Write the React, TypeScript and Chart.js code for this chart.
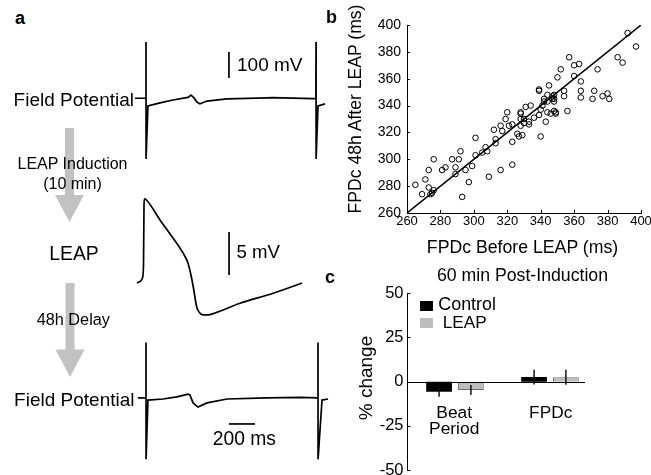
import React, { useEffect, useRef } from 'react';
import { Chart, registerables } from 'chart.js';
Chart.register(...registerables);

const FONT = 'Arial, "Liberation Sans", Helvetica, sans-serif';

// ---------- Panel a: traces (time in ms, potential in mV) ----------
const fpTopTime = [-85, -1, 0, 0.5, 15, 108, 208, 300, 323, 346, 369, 392, 415, 469, 623, 931, 977, 1285, 1307, 1308, 1308.5, 1323, 1377];
const fpTopValue = [2.7, 2.7, 219, -231, -27, -15, -4, 4, 6, 15, 4, -12, -19, -8, 0, 4, 5, 1, 2, 219, -231, -27, -19];

const apTime = [-50, -27, -8, 0, 4, 8, 23, 127, 227, 304, 342, 365, 383, 409, 427, 458, 496, 550, 742, 998, 1219];
const apValue = [0, 0.17, 0.58, 2.1, 9.1, 9.77, 9.65, 7.33, 5.23, 3.49, 2.33, 0.93, -0.47, -2.76, -3.37, -3.72, -3.72, -3.49, -2.36, -1.2, 0];

const fpBottomTime = [-62, -1, 0, 0.5, 15, 131, 238, 323, 338, 362, 400, 469, 623, 931, 1185, 1322, 1323, 1323.5, 1354, 1400];
const fpBottomValue = [0, 0, 213, -236, -8, -4, 4, 15, 12, -19, -35, -19, -4, 0, 2, 0, 213, -236, -8, -4];

// scale bars
const fpScaleBar = { t: 638, from: 81, to: 181 }; // 100 mV
const apScaleBar = { t: 658, from: 0.93, to: 5.93 }; // 5 mV
const timeScaleBar = { v: -100, from: 638, to: 838 }; // 200 ms

// ---------- Panel b: scatter ----------
const fpdcBefore = [265, 269, 271, 273, 273, 274, 275, 276, 276, 281, 283, 287, 289, 289, 291, 292, 293, 295, 297, 299, 301, 301, 305, 307, 308, 309, 312, 313, 313, 316, 316, 317, 319, 320, 321, 323, 323, 323, 326, 327, 328, 328, 328, 328, 329, 330, 330, 331, 333, 333, 334, 336, 339, 339, 339, 340, 340, 341, 342, 342, 343, 344, 344, 344, 345, 346, 347, 347, 348, 348, 348, 348, 349, 349, 350, 352, 354, 354, 356, 357, 360, 360, 363, 364, 364, 364, 371, 372, 374, 377, 380, 381, 386, 389, 392, 397];
const fpdcAfter = [281, 274, 285, 292, 279, 274, 275, 277, 300, 292, 294, 300, 289, 294, 300, 306, 272, 292, 283, 295, 303, 316, 305, 309, 306, 287, 322, 315, 312, 325, 292, 321, 330, 335, 325, 326, 313, 296, 319, 317, 325, 335, 334, 330, 318, 327, 330, 339, 328, 326, 340, 331, 333, 352, 351, 337, 317, 340, 343, 345, 328, 348, 335, 343, 355, 334, 345, 347, 343, 348, 336, 345, 335, 334, 361, 367, 347, 351, 336, 376, 370, 362, 371, 358, 351, 346, 345, 351, 367, 347, 349, 345, 376, 372, 394, 384];
const identityLine = [260, 400];
const scatterTicks = [260, 280, 300, 320, 340, 360, 380, 400];

// ---------- Panel c: bars ----------
const barCategories = ['Beat Period', 'FPDc'];
const controlMean = [-5.7, 2.6];
const controlErr = [2.8, 4.2];
const leapMean = [-4.7, 2.5];
const leapErr = [2.8, 4.3];
const barTicks = [-50, -25, 0, 25, 50];

function ChartCanvas({ left, top, width, height, config }: { left: number; top: number; width: number; height: number; config: () => any }) {
  const ref = useRef<HTMLCanvasElement | null>(null);
  useEffect(() => {
    if (!ref.current) return;
    const chart = new Chart(ref.current, config());
    return () => chart.destroy();
  }, []);
  return (
    <canvas
      ref={ref}
      width={width}
      height={height}
      style={{ position: 'absolute', left, top, width, height }}
    />
  );
}

function Label({ x, y, size, bold, anchor = 'middle', rotate, children }: { x: number; y: number; size: number; bold?: boolean; anchor?: 'start' | 'middle' | 'end'; rotate?: boolean; children: React.ReactNode }) {
  const tx = anchor === 'start' ? '0' : anchor === 'end' ? '-100%' : '-50%';
  return (
    <div
      style={{
        position: 'absolute',
        left: x,
        top: y,
        transform: `translate(${tx},-50%)${rotate ? ' rotate(-90deg)' : ''}`,
        fontFamily: FONT,
        fontSize: size,
        fontWeight: bold ? 'bold' : 'normal',
        lineHeight: 1,
        whiteSpace: 'pre',
        textAlign: 'center',
        color: '#000',
      }}
    >
      {children}
    </div>
  );
}

function traceConfig(times: number[], values: number[], xMin: number, xMax: number, yMin: number, yMax: number, smooth: boolean, bar: (c: any) => void) {
  return () => ({
    type: 'line',
    data: {
      datasets: [
        {
          data: times.map((t, i) => ({ x: t, y: values[i] })),
          borderColor: '#000',
          borderWidth: 1.7,
          pointRadius: 0,
          tension: 0,
          cubicInterpolationMode: smooth ? 'monotone' : 'default',
          fill: false,
        },
      ],
    },
    options: {
      responsive: false,
      animation: false,
      events: [],
      layout: { padding: 0 },
      plugins: { legend: { display: false }, tooltip: { enabled: false } },
      scales: {
        x: { type: 'linear', display: false, min: xMin, max: xMax },
        y: { type: 'linear', display: false, min: yMin, max: yMax },
      },
    },
    plugins: [{ id: 'scalebar', afterDatasetsDraw: bar }],
  });
}

function drawVBar(sb: { t: number; from: number; to: number }) {
  return (chart: any) => {
    const { ctx, scales } = chart;
    const x = scales.x.getPixelForValue(sb.t);
    ctx.save();
    ctx.strokeStyle = '#000';
    ctx.lineWidth = 1.7;
    ctx.beginPath();
    ctx.moveTo(x, scales.y.getPixelForValue(sb.from));
    ctx.lineTo(x, scales.y.getPixelForValue(sb.to));
    ctx.stroke();
    ctx.restore();
  };
}

function drawHBar(sb: { v: number; from: number; to: number }) {
  return (chart: any) => {
    const { ctx, scales } = chart;
    const y = scales.y.getPixelForValue(sb.v);
    ctx.save();
    ctx.strokeStyle = '#000';
    ctx.lineWidth = 1.7;
    ctx.beginPath();
    ctx.moveTo(scales.x.getPixelForValue(sb.from), y);
    ctx.lineTo(scales.x.getPixelForValue(sb.to), y);
    ctx.stroke();
    ctx.restore();
  };
}

const inwardTicks = {
  id: 'inwardTicks',
  afterDraw(chart: any) {
    const { ctx, chartArea, scales } = chart;
    ctx.save();
    ctx.strokeStyle = '#000';
    ctx.lineWidth = 1;
    if (scales.x && scales.x.options.display && scales.x.type === 'linear') {
      scales.x.ticks.forEach((t: any) => {
        const px = Math.round(scales.x.getPixelForValue(t.value)) + 0.5;
        ctx.beginPath();
        ctx.moveTo(px, chartArea.bottom);
        ctx.lineTo(px, chartArea.bottom - 3);
        ctx.stroke();
      });
    }
    if (scales.y) {
      scales.y.ticks.forEach((t: any) => {
        const py = Math.round(scales.y.getPixelForValue(t.value)) + 0.5;
        ctx.beginPath();
        ctx.moveTo(chartArea.left, py);
        ctx.lineTo(chartArea.left + 3, py);
        ctx.stroke();
      });
    }
    ctx.restore();
  },
};

function scatterConfig() {
  return {
    type: 'scatter',
    data: {
      datasets: [
        {
          type: 'line',
          data: identityLine.map((v) => ({ x: v, y: v })),
          borderColor: '#000',
          borderWidth: 1.5,
          pointRadius: 0,
          fill: false,
        },
        {
          data: fpdcBefore.map((b, i) => ({ x: b, y: fpdcAfter[i] })),
          pointRadius: 2.8,
          pointBorderWidth: 1,
          pointBorderColor: '#000',
          pointBackgroundColor: 'rgba(255,255,255,0)',
          showLine: false,
        },
      ],
    },
    options: {
      responsive: false,
      animation: false,
      events: [],
      layout: { padding: { top: 25, right: 10, left: 0, bottom: 0 } },
      plugins: { legend: { display: false }, tooltip: { enabled: false } },
      scales: {
        x: {
          type: 'linear',
          min: 260,
          max: 400,
          afterBuildTicks: (s: any) => { s.ticks = scatterTicks.map((v) => ({ value: v })); },
          ticks: { font: { size: 13, family: FONT }, color: '#000', padding: 1, maxRotation: 0, autoSkip: false },
          grid: { display: false, drawTicks: false },
          border: { display: true, color: '#000', width: 1 },
          afterFit: (s: any) => { s.height = 47; s.paddingLeft = 0; s.paddingRight = 0; },
        },
        y: {
          type: 'linear',
          min: 260,
          max: 400,
          afterBuildTicks: (s: any) => { s.ticks = scatterTicks.map((v) => ({ value: v })); },
          ticks: { font: { size: 14, family: FONT }, color: '#000', padding: 6, autoSkip: false },
          grid: { display: false, drawTicks: false },
          border: { display: true, color: '#000', width: 1 },
          afterFit: (s: any) => { s.width = 77; s.paddingTop = 0; s.paddingBottom = 0; },
        },
      },
    },
    plugins: [inwardTicks],
  };
}

const barExtras = {
  id: 'barExtras',
  afterDatasetsDraw(chart: any) {
    const { ctx, chartArea, scales } = chart;
    const y0 = Math.round(scales.y.getPixelForValue(0)) + 0.5;
    ctx.save();
    ctx.strokeStyle = '#000';
    ctx.lineWidth = 1;
    ctx.beginPath();
    ctx.moveTo(chartArea.left, y0);
    ctx.lineTo(chartArea.right - 12.5, y0);
    ctx.stroke();
    const errs = [controlErr, leapErr];
    const means = [controlMean, leapMean];
    ctx.lineWidth = 1.5;
    ctx.strokeStyle = '#111';
    [0, 1].forEach((di) => {
      const meta = chart.getDatasetMeta(di);
      meta.data.forEach((bar: any, i: number) => {
        const m = means[di][i];
        const e = errs[di][i];
        ctx.beginPath();
        ctx.moveTo(bar.x, scales.y.getPixelForValue(m + e));
        ctx.lineTo(bar.x, scales.y.getPixelForValue(m - e));
        ctx.stroke();
      });
    });
    ctx.restore();
  },
};

function barConfig() {
  return {
    type: 'bar',
    data: {
      labels: barCategories,
      datasets: [
        { label: 'Control', data: controlMean, backgroundColor: '#000', borderWidth: 0, categoryPercentage: 0.67, barPercentage: 0.81 },
        { label: 'LEAP', data: leapMean, backgroundColor: '#bdbdbd', borderColor: '#6e6e6e', borderWidth: 1, categoryPercentage: 0.67, barPercentage: 0.81 },
      ],
    },
    options: {
      responsive: false,
      animation: false,
      events: [],
      layout: { padding: { top: 33.3, right: 53.5, left: 0, bottom: 5 } },
      plugins: { legend: { display: false }, tooltip: { enabled: false } },
      scales: {
        x: { type: 'category', display: false, offset: true },
        y: {
          type: 'linear',
          min: -50,
          max: 50,
          afterBuildTicks: (s: any) => { s.ticks = barTicks.map((v) => ({ value: v })); },
          ticks: { font: { size: 16.5, family: FONT }, color: '#000', padding: 4, autoSkip: false },
          grid: { display: false, drawTicks: false },
          border: { display: true, color: '#000', width: 1 },
          afterFit: (s: any) => { s.width = 77.5; s.paddingTop = 0; s.paddingBottom = 0; },
        },
      },
    },
    plugins: [barExtras, inwardTicks],
  };
}

function Arrow({ x, top, headTop, tip }: { x: number; top: number; headTop: number; tip: number }) {
  return (
    <polygon
      points={`${x - 4.5},${top} ${x + 4.5},${top} ${x + 4.5},${headTop} ${x + 14.5},${headTop} ${x},${tip} ${x - 14.5},${headTop} ${x - 4.5},${headTop}`}
      fill="#c2c2c2"
    />
  );
}

export default function App() {
  return (
    <div style={{ position: 'absolute', left: 0, top: 0, width: 651, height: 475, background: '#fff', overflow: 'hidden' }}>
      <svg width={651} height={475} style={{ position: 'absolute', left: 0, top: 0 }}>
        <Arrow x={69.5} top={128} headTop={195} tip={222} />
        <Arrow x={70} top={283} headTop={349.5} tip={377} />
      </svg>

      <ChartCanvas left={125} top={35} width={210} height={130}
        config={traceConfig(fpTopTime, fpTopValue, -161.5, 1453.8, -254, 246, false, drawVBar(fpScaleBar))} />
      <ChartCanvas left={125} top={190} width={210} height={140}
        config={traceConfig(apTime, apValue, -142.3, 1473.1, -5.47, 10.81, true, drawVBar(apScaleBar))} />
      <ChartCanvas left={125} top={334} width={210} height={130}
        config={traceConfig(fpBottomTime, fpBottomValue, -161.5, 1453.8, -254, 246, false, drawHBar(timeScaleBar))} />

      <ChartCanvas left={330} top={0} width={321} height={260} config={scatterConfig} />
      <ChartCanvas left={330} top={260} width={321} height={215} config={barConfig} />

      {/* Panel letters */}
      <Label x={15} y={18} size={18} bold anchor="start">a</Label>
      <Label x={326} y={17} size={18} bold anchor="start">b</Label>
      <Label x={325} y={277} size={18} bold anchor="start">c</Label>

      {/* Panel a labels */}
      <Label x={134} y={98.5} size={19} anchor="end">Field Potential</Label>
      <Label x={237} y={64} size={19} anchor="start">100 mV</Label>
      <Label x={72.5} y={164} size={16} >LEAP Induction</Label>
      <Label x={72.5} y={183.5} size={16} >(10 min)</Label>
      <Label x={74} y={254} size={19.4} >LEAP</Label>
      <Label x={236.5} y={252} size={18.6} anchor="start">5 mV</Label>
      <Label x={73.3} y={319} size={16.3} >48h Delay</Label>
      <Label x={134.5} y={399} size={19} anchor="end">Field Potential</Label>
      <Label x={244.3} y={439} size={19.3} >200 ms</Label>

      {/* Panel b labels */}
      <Label x={355.5} y={108.5} size={17.6} rotate>FPDc 48h After LEAP (ms)</Label>
      <Label x={522.5} y={248} size={17.7} >FPDc Before LEAP (ms)</Label>

      {/* Panel c labels */}
      <Label x={522.5} y={276} size={17.7} >60 min Post-Induction</Label>
      <Label x={365} y={377.5} size={19} rotate>% change</Label>
      <div style={{ position: 'absolute', left: 420, top: 300.7, width: 12.7, height: 10, background: '#000' }} />
      <div style={{ position: 'absolute', left: 420, top: 318, width: 13, height: 10, background: '#bdbdbd' }} />
      <Label x={438.3} y={305} size={17.9} anchor="start">Control</Label>
      <Label x={442.7} y={323} size={17.2} anchor="start">LEAP</Label>
      <Label x={454.2} y={413.3} size={17.4} >Beat</Label>
      <Label x={454.2} y={429.3} size={17.4} >Period</Label>
      <Label x={550.7} y={413.3} size={17.3} >FPDc</Label>
    </div>
  );
}
